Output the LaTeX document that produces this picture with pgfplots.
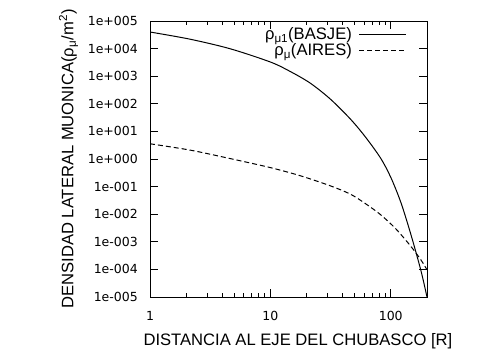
\documentclass[border=0pt]{standalone}
\usepackage{fontspec}
\setmainfont{Liberation Sans}
\newfontfamily\dejavu{DejaVu Sans}
\usepackage{pgfplots}
\pgfplotsset{compat=1.18}
\begin{document}
\begin{tikzpicture}[x=1pt,y=1pt]
\useasboundingbox (0,0) rectangle (500,350);
\begin{axis}[
  at={(150pt,53pt)}, anchor=south west,
  scale only axis, width=277pt, height=276pt,
  xmode=log, ymode=log,
  xmin=1, xmax=200, ymin=1e-5, ymax=1e5,
  axis line style={line width=0.9pt},
  every tick/.style={black, line width=0.9pt},
  tick align=inside,
  major tick length=8pt, minor tick length=4pt,
  xtick={1,10,100}, xticklabels={1,10,100},
  minor xtick={2,3,4,5,6,7,8,9,20,30,40,50,60,70,80,90},
  ytick={1e-5,1e-4,1e-3,1e-2,1e-1,1,10,100,1000,10000,100000},
  yticklabels={1e-005,1e-004,1e-003,1e-002,1e-001,1e+000,1e+001,1e+002,1e+003,1e+004,1e+005},
  yminorticks=false,
  xticklabel style={font=\dejavu\fontsize{12.5}{14}\selectfont, inner sep=0pt, anchor=north, yshift=-14.5pt},
  yticklabel style={font=\dejavu\fontsize{12.5}{14}\selectfont, inner sep=0pt, anchor=east, xshift=-12pt},
  xlabel={DISTANCIA AL EJE DEL CHUBASCO [R]},
  xlabel style={font=\fontsize{16.6}{18}\selectfont, at={(axis description cs:0.534,-0.174)}, anchor=base},
  ylabel={DENSIDAD LATERAL MUONICA(ρ\textsubscript{μ}/m\textsuperscript{2})},
  ylabel style={font=\fontsize{16.6}{18}\selectfont, at={(axis description cs:-0.294,0.5)}, anchor=center},
  legend plot pos=right,
  legend cell align=right,
  legend style={draw=none, fill=none, inner sep=0pt, at={(axis description cs:0.928,0.984)}, anchor=north east,
    font=\fontsize{16.6}{18}\selectfont, row sep=-1.5pt,
    /tikz/every odd column/.append style={column sep=5pt}},
  legend image code/.code={\draw[#1] (0pt,0pt) -- (47pt,0pt);},
]
\addplot[black, line width=1pt, smooth] coordinates {
(1,3.99e4) (2.154,2.19e4) (4.642,9840) (10,3266) (14.68,1468) (21.54,553) (31.62,145.6)
(46.42,27.4) (61.90,6.11) (82.54,1.059) (100,0.2173) (121.2,0.02698) (146.8,0.001871)
(177.8,9.27e-5) (200,1e-5)
};
\addlegendentry{ρ\textsubscript{μ1}(BASJE)}
\addplot[black, line width=1pt, dash pattern=on 5pt off 3pt, smooth] coordinates {
(1,3.56) (2.154,2.10) (4.642,1.034) (10,0.4876) (17.78,0.246) (31.62,0.1059) (46.42,0.0526)
(61.90,0.02382) (82.54,0.00951) (110.1,0.002958) (146.8,6.87e-4) (177.8,2.23e-4) (200,9.68e-5)
};
\addlegendentry{ρ\textsubscript{μ}(AIRES)}
\end{axis}
\end{tikzpicture}
\end{document}
